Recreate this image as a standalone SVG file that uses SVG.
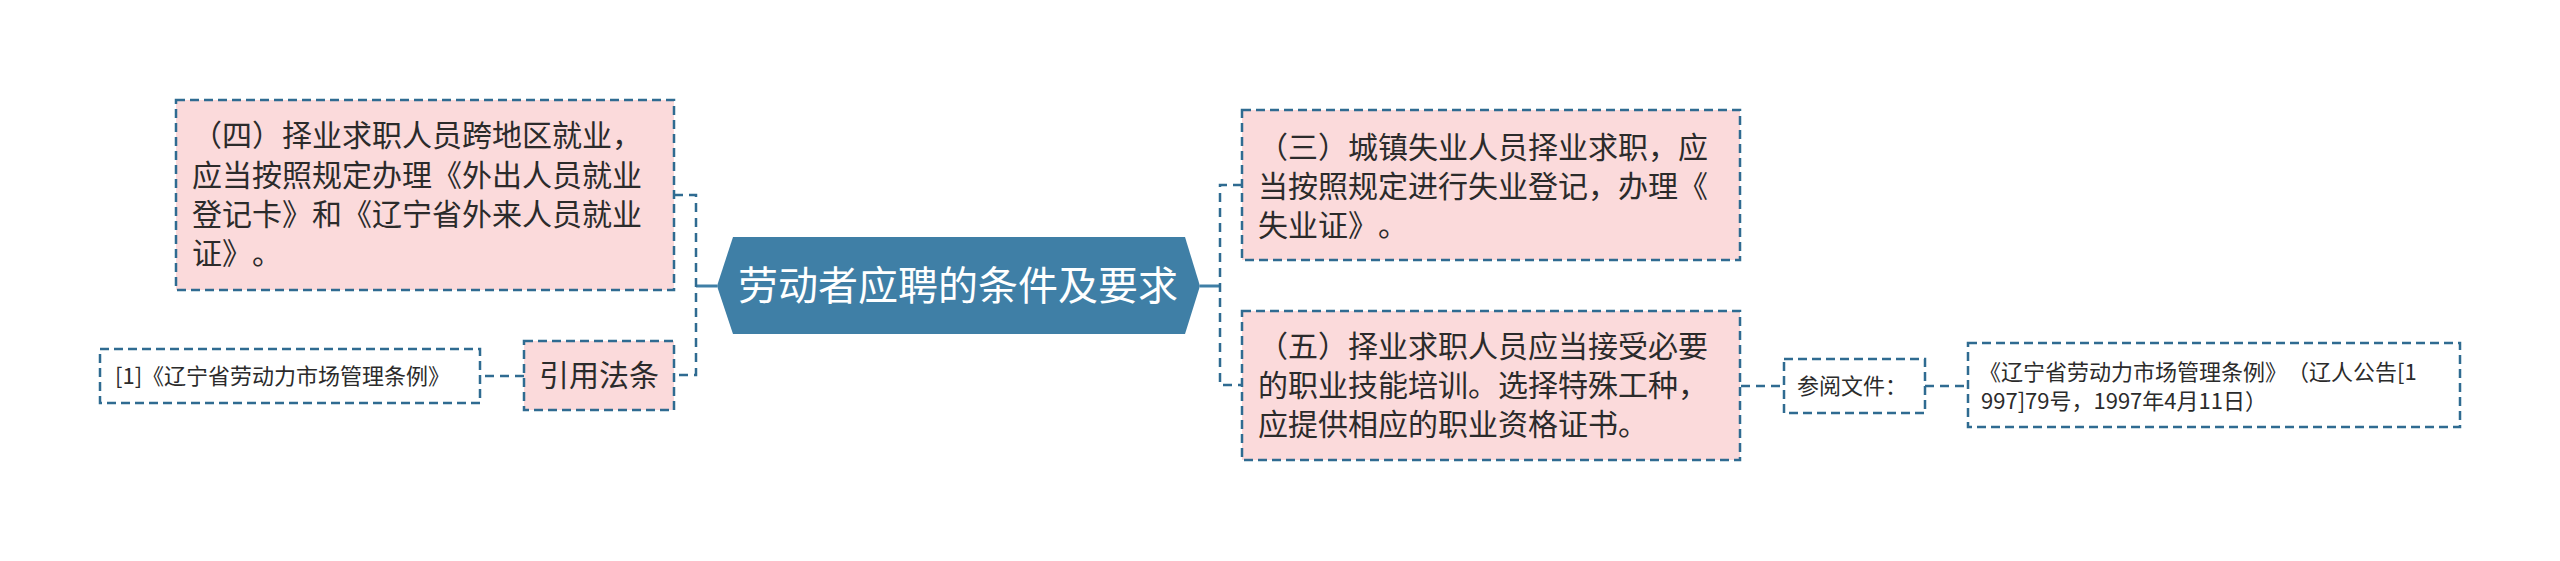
<svg xmlns="http://www.w3.org/2000/svg" width="2560" height="561" viewBox="0 0 2560 561">
<style>
.box{fill:#fbdadb;stroke:#2f6b91;stroke-width:2.5;stroke-dasharray:9 5}
.plain{fill:#ffffff;stroke:#2f6b91;stroke-width:2.5;stroke-dasharray:9 5}
.t{font-family:"Microsoft YaHei","Noto Sans CJK SC","Noto Sans",sans-serif;fill:#2b2b2b;text-spacing-trim:space-all}
.t30{font-size:30px}
.t22{font-size:22px}
.conn{fill:none;stroke:#2f6b91;stroke-width:2.5;stroke-dasharray:9 6}
.solid{fill:none;stroke:#3f7fa6;stroke-width:3}
</style>
<rect width="2560" height="561" fill="#ffffff"/>
<g id="connectors">
<path class="solid" d="M717 286 H696"/>
<path class="conn" d="M674 195 H696 V375 H674"/>
<path class="solid" d="M1200 286 H1220"/>
<path class="conn" d="M1242 185 H1220 V385 H1242"/>
<path class="conn" d="M524 376 H480"/>
<path class="conn" d="M1741 386 H1784"/>
<path class="conn" d="M1925 386 H1968"/>
</g>
<g id="root">
<polygon points="717,286 733,237 1185,237 1200,286 1185,334 733,334" fill="#3f7fa6"/>
<text class="t" x="958" y="300" font-size="40" text-anchor="middle" style="fill:#ffffff">劳动者应聘的条件及要求</text>
</g>
<g id="node-si">
<rect class="box" x="176" y="100" width="498" height="190"/>
<text class="t t30" x="192" y="146">（四）择业求职人员跨地区就业，</text>
<text class="t t30" x="192" y="186">应当按照规定办理《外出人员就业</text>
<text class="t t30" x="192" y="225">登记卡》和《辽宁省外来人员就业</text>
<text class="t t30" x="192" y="264">证》。</text>
</g>
<g id="node-yinyong">
<rect class="box" x="524" y="341" width="150" height="69"/>
<text class="t t30" x="599" y="386" text-anchor="middle">引用法条</text>
</g>
<g id="node-ref1">
<rect class="plain" x="100" y="349" width="380" height="54"/>
<text class="t t22" x="115" y="384">[1]《辽宁省劳动力市场管理条例》</text>
</g>
<g id="node-san">
<rect class="box" x="1242" y="110" width="498" height="150"/>
<text class="t t30" x="1258" y="158">（三）城镇失业人员择业求职，应</text>
<text class="t t30" x="1258" y="197">当按照规定进行失业登记，办理《</text>
<text class="t t30" x="1258" y="236">失业证》。</text>
</g>
<g id="node-wu">
<rect class="box" x="1242" y="311" width="498" height="149"/>
<text class="t t30" x="1258" y="357">（五）择业求职人员应当接受必要</text>
<text class="t t30" x="1258" y="396">的职业技能培训。选择特殊工种，</text>
<text class="t t30" x="1258" y="435">应提供相应的职业资格证书。</text>
</g>
<g id="node-canyue">
<rect class="plain" x="1784" y="359" width="141" height="54"/>
<text class="t t22" x="1797" y="394">参阅文件：</text>
</g>
<g id="node-doc">
<rect class="plain" x="1968" y="343" width="492" height="84"/>
<text class="t t22" x="1979" y="380">《辽宁省劳动力市场管理条例》（辽人公告[1</text>
<text class="t t22" x="1981" y="409">997]79号，1997年4月11日）</text>
</g>
</svg>
